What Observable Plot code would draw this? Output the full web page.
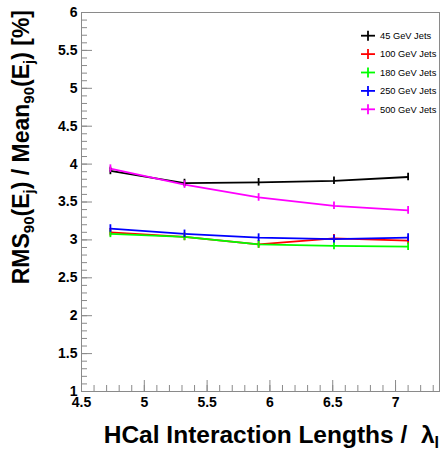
<!DOCTYPE html>
<html>
<head>
<meta charset="utf-8">
<script src="https://cdn.jsdelivr.net/npm/d3@7"></script>
<script src="https://cdn.jsdelivr.net/npm/@observablehq/plot@0.6"></script>
<style>
  html, body { margin: 0; padding: 0; background: #fff; }
  #chart { width: 443px; height: 451px; }
</style>
</head>
<body>
<div id="chart"></div>
<script>
// ---- data ----
const lengths = [4.73, 5.32, 5.91, 6.51, 7.10];
const seriesNames = ["45 GeV Jets", "100 GeV Jets", "180 GeV Jets", "250 GeV Jets", "500 GeV Jets"];
const seriesColors = ["#000000", "#ff0000", "#00ff00", "#0000ff", "#ff00ff"];
const res45  = [3.91, 3.75, 3.76, 3.78, 3.83];
const res100 = [3.10, 3.04, 2.94, 3.02, 2.99];
const res180 = [3.08, 3.04, 2.94, 2.92, 2.91];
const res250 = [3.15, 3.08, 3.03, 3.01, 3.03];
const res500 = [3.94, 3.73, 3.56, 3.45, 3.39];
const err45  = [0.05, 0.05, 0.05, 0.05, 0.05];
const err100 = [0.05, 0.05, 0.05, 0.05, 0.05];
const err180 = [0.05, 0.05, 0.05, 0.05, 0.05];
const err250 = [0.05, 0.05, 0.05, 0.05, 0.05];
const err500 = [0.05, 0.05, 0.05, 0.05, 0.05];
const xMajorTicks = [4.5, 5, 5.5, 6, 6.5, 7];
const xTickLabels = ["4.5", "5", "5.5", "6", "6.5", "7"];
const yMajorTicks = [1, 1.5, 2, 2.5, 3, 3.5, 4, 4.5, 5, 5.5, 6];
const yTickLabels = ["1", "1.5", "2", "2.5", "3", "3.5", "4", "4.5", "5", "5.5", "6"];

// ---- build table ----
const allValues = [res45, res100, res180, res250, res500];
const allErrs = [err45, err100, err180, err250, err500];
const table = [];
seriesNames.forEach((name, i) => {
  lengths.forEach((x, j) => {
    table.push({series: name, x, y: allValues[i][j], e: allErrs[i][j]});
  });
});

const xMinor = d3.range(45, 74).map(v => v / 10);
const yMinor = d3.range(10, 61).map(v => v / 10);

const W = 443, H = 451;
const mL = 81, mR = 4, mT = 12, mB = 60;
const frameW = W - mL - mR, frameH = H - mT - mB;
const font = "'Liberation Sans', Arial, Helvetica, sans-serif";

const color = {domain: seriesNames, range: seriesColors};

const plot = Plot.plot({
  width: W,
  height: H,
  marginLeft: mL,
  marginRight: mR,
  marginTop: mT,
  marginBottom: mB,
  style: {fontFamily: font, background: "#fff"},
  x: {domain: [4.5, 7.35], label: null},
  y: {domain: [1, 6], label: null},
  color,
  marks: [
    Plot.frame({stroke: "#8a8a8a"}),
    // inward minor/major ticks
    Plot.tickY(yMinor, {y: d => d, insetRight: frameW - 6, stroke: "#8a8a8a"}),
    Plot.tickY(yMajorTicks, {y: d => d, insetRight: frameW - 11, stroke: "#8a8a8a"}),
    Plot.tickX(xMinor, {x: d => d, insetTop: frameH - 6, stroke: "#8a8a8a"}),
    Plot.tickX(xMajorTicks, {x: d => d, insetTop: frameH - 11, stroke: "#8a8a8a"}),
    Plot.axisY(yMajorTicks, {tickSize: 0, tickPadding: 4, fontSize: 14, fontWeight: "bold", fill: "#000",
      label: null, tickFormat: (d, i) => yTickLabels[i]}),
    Plot.axisX(xMajorTicks, {tickSize: 0, tickPadding: 6, fontSize: 14, fontWeight: "bold", fill: "#000",
      label: null, tickFormat: (d, i) => xTickLabels[i]}),
    Plot.line(table, {x: "x", y: "y", z: "series", stroke: "series", strokeWidth: 1.8}),
    Plot.ruleX(table, {x: "x", y1: d => d.y - d.e, y2: d => d.y + d.e, stroke: "series", strokeWidth: 1.8})
  ]
});

document.getElementById("chart").appendChild(plot);

const svg = d3.select(plot);

// x axis title
const xt = svg.append("text")
  .attr("x", 439).attr("y", 443)
  .attr("text-anchor", "end")
  .attr("font-family", font).attr("font-weight", "bold").attr("font-size", 24.5)
  .attr("fill", "#000");
xt.append("tspan").text("HCal Interaction Lengths /  \u03BB");
xt.append("tspan").attr("dy", 5).attr("font-size", 16).text("I");

// y axis title
const yt = svg.append("text")
  .attr("transform", "translate(29,10) rotate(-90)")
  .attr("text-anchor", "end")
  .attr("font-family", font).attr("font-weight", "bold").attr("font-size", 23)
  .attr("fill", "#000");
const parts = [["RMS", 0], ["90", 1], ["(E", 0], ["j", 1], [") / Mean", 0], ["90", 1], ["(E", 0], ["j", 1], [") [%]", 0]];
let prevSub = 0;
parts.forEach(([t, sub]) => {
  const ts = yt.append("tspan").text(t);
  if (sub) ts.attr("font-size", 15);
  const dy = (sub ? 5 : 0) - (prevSub ? 5 : 0);
  if (dy !== 0) ts.attr("dy", dy);
  prevSub = sub;
});

// legend
const lg = svg.append("g");
seriesNames.forEach((name, i) => {
  const cy = 35.7 + i * 18.4;
  lg.append("line").attr("x1", 361).attr("x2", 375).attr("y1", cy).attr("y2", cy)
    .attr("stroke", seriesColors[i]).attr("stroke-width", 1.8);
  lg.append("line").attr("x1", 368).attr("x2", 368).attr("y1", cy - 5).attr("y2", cy + 5)
    .attr("stroke", seriesColors[i]).attr("stroke-width", 1.8);
  lg.append("text").attr("x", 380).attr("y", cy).attr("dy", "0.35em")
    .attr("text-anchor", "start")
    .attr("font-family", font).attr("font-size", 9.3).attr("fill", "#000").text(name);
});
</script>
</body>
</html>
